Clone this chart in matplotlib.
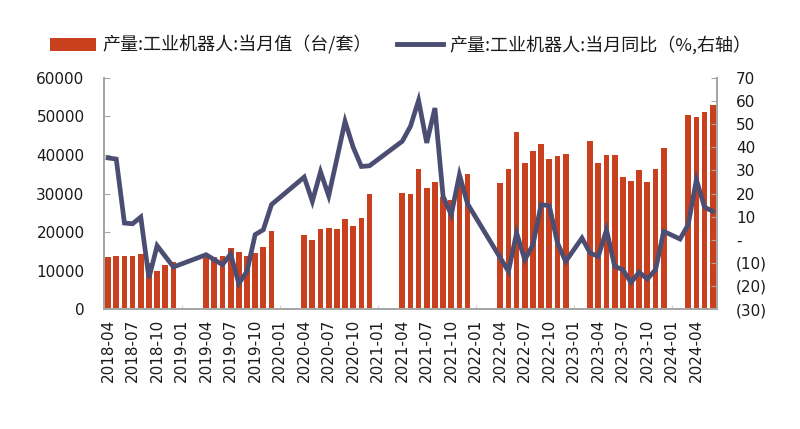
import matplotlib
matplotlib.use('Agg')
import matplotlib.pyplot as plt
import numpy as np
import pandas as pd
from matplotlib.ticker import FuncFormatter, FixedLocator
from matplotlib.patches import Patch
from matplotlib.lines import Line2D

plt.rcParams['font.family'] = ['Noto Sans CJK SC', 'DejaVu Sans']

# ---- data ----
months = [p.strftime('%Y-%m') for p in pd.period_range('2018-04', '2024-06', freq='M')]
N = None
output_units = [
    # 2018-04 .. 2018-12
    13580, 13850, 13850, 13850, 14200, 12000, 9870, 11430, 12290,
    # 2019-01 .. 2019-03
    N, N, N,
    # 2019-04 .. 2019-12
    13580, 13580, 13850, 15770, 14880, 13850, 14470, 16190, 20260,
    N, N, N,
    # 2020-04 .. 2020-12
    19220, 17920, 20870, 21160, 20870, 23380, 21600, 23720, 29790,
    N, N, N,
    # 2021-04 .. 2021-12
    30220, 29790, 36450, 31340, 32900, 29180, 28300, 34800, 35060,
    N, N, N,
    # 2022-04 .. 2022-12
    32650, 36360, 45890, 38000, 41120, 42780, 38960, 39820, 40260,
    N, N,
    # 2023-03 .. 2023-12
    43720, 38000, 39910, 39910, 34200, 33250, 36100, 32990, 36360, 41730,
    N, N,
    # 2024-03 .. 2024-06
    50390, 49950, 51250, 52990,
]
yoy_pct = [
    35.4, 34.9, 7.2, 6.9, 9.8, -16.6, -2.6, -7.2, -11.8,
    N, N, N,
    -6.5, -8.7, -10.8, -6.2, -19.0, -13.7, 2.2, 4.3, 15.2,
    N, N, N,
    27.1, 16.6, 29.4, 19.0, 35.0, 51.2, 40.0, 31.7, 32.0,
    N, N, N,
    42.6, 49.0, 60.3, 41.9, 57.0, 18.8, 10.8, 28.1, 15.5,
    N, N, N,
    N, -13.7, 2.9, -8.7, -2.2, 15.2, 14.7, -1.4, -9.4,
    N, 0.7,
    -5.8, -7.2, 4.3, -11.5, -13.0, -18.5, -14.1, -17.0, -13.0, 3.6,
    N, 0.3,
    6.5, 26.0, 14.1, 12.3,
]
xtick_labels = ['2018-04', '2018-07', '2018-10', '2019-01', '2019-04', '2019-07',
                '2019-10', '2020-01', '2020-04', '2020-07', '2020-10', '2021-01',
                '2021-04', '2021-07', '2021-10', '2022-01', '2022-04', '2022-07',
                '2022-10', '2023-01', '2023-04', '2023-07', '2023-10', '2024-01',
                '2024-04']
left_ticks = [0, 10000, 20000, 30000, 40000, 50000, 60000]
right_ticks = [-30, -20, -10, 0, 10, 20, 30, 40, 50, 60, 70]
label_bar = '产量:工业机器人:当月值（台/套）'
label_line = '产量:工业机器人:当月同比（%,右轴）'

# ---- styling ----
BAR_C = '#C8401E'
LINE_C = '#4B4E72'
AX_C = '#A6A6A6'
TXT_C = '#1a1a1a'

fig = plt.figure(figsize=(8, 4.29), dpi=100)
ax = fig.add_axes([0.13, 0.2797, 0.766, 0.5385])
ax2 = ax.twinx()

x = np.arange(len(months))
bars = np.array([np.nan if v is None else v for v in output_units], dtype=float)
line = np.array([np.nan if v is None else v for v in yoy_pct], dtype=float)
bm = ~np.isnan(bars)
lm = ~np.isnan(line)

ax.bar(x[bm], bars[bm], width=0.7, color=BAR_C, zorder=2)
ax2.plot(x[lm], line[lm], color=LINE_C, lw=3.4, solid_joinstyle='miter', zorder=3)

ax.set_xlim(-0.5, len(months) - 0.5)
ax.set_ylim(0, 60000)
ax2.set_ylim(-30, 70)

ax.yaxis.set_major_locator(FixedLocator(left_ticks))
ax.set_yticklabels([str(v) for v in left_ticks], family='DejaVu Sans', fontsize=11, color=TXT_C)
ax2.yaxis.set_major_locator(FixedLocator(right_ticks))

def rfmt(v, pos):
    v = int(round(v))
    if v < 0:
        return f'({-v})'
    if v == 0:
        return '-'
    return str(v)

ax2.yaxis.set_major_formatter(FuncFormatter(rfmt))
for t in ax2.get_yticklabels():
    t.set_family('DejaVu Sans')
ax2.tick_params(axis='y', labelsize=11, labelcolor=TXT_C, direction='in', length=4.5,
                color=AX_C, pad=14)
ax.tick_params(axis='y', direction='in', length=4.5, color=AX_C, pad=14)

xt_pos = [months.index(l) for l in xtick_labels]
ax.set_xticks(xt_pos)
ax.set_xticklabels(xtick_labels, rotation=90, family='DejaVu Sans', fontsize=11, color=TXT_C)
ax.tick_params(axis='x', direction='in', length=3, color='#D0D0D0', pad=7)

for a in (ax, ax2):
    a.spines['top'].set_visible(False)
    for s in ('left', 'right', 'bottom'):
        a.spines[s].set_color(AX_C)
        a.spines[s].set_linewidth(1.3)
ax2.set_zorder(ax.get_zorder() + 1)
ax2.patch.set_visible(False)

handles = [Patch(facecolor=BAR_C, edgecolor='none'),
           Line2D([0], [0], color=LINE_C, lw=3.5)]
fig.legend(handles, [label_bar, label_line], loc='center', bbox_to_anchor=(0.501, 0.895),
           ncol=2, frameon=False, fontsize=13, handlelength=2.55, handletextpad=0.35,
           columnspacing=1.4, labelcolor=TXT_C)

fig.savefig('out.png', dpi=100)
